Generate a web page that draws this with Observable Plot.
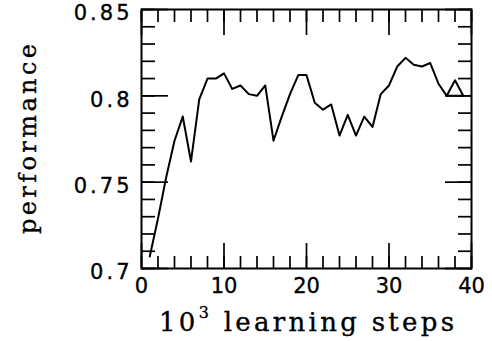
<!DOCTYPE html>
<html><head><meta charset="utf-8">
<script src="https://cdn.jsdelivr.net/npm/d3@7"></script>
<script src="https://cdn.jsdelivr.net/npm/@observablehq/plot@0.6"></script>
<style>body{margin:0;background:#fff}</style>
</head><body><div id="chart"></div>
<script>
const steps = [1,2,3,4,5,6,7,8,9,10,11,12,13,14,15,16,17,18,19,20,21,22,23,24,25,26,27,28,29,30,31,32,33,34,35,36,37,38,39,37];
const perf = [0.707,0.729,0.753,0.774,0.788,0.762,0.798,0.810,0.810,0.813,0.804,0.806,0.801,0.800,0.806,0.774,0.788,0.801,0.812,0.812,0.796,0.792,0.795,0.777,0.789,0.777,0.788,0.782,0.801,0.806,0.817,0.822,0.818,0.817,0.819,0.807,0.800,0.809,0.800,0.800];
const xMinorTicks = [0,2,4,6,8,10,12,14,16,18,20,22,24,26,28,30,32,34,36,38,40];
const xMajorTicks = [0,10,20,30,40];
const yMinorTicks = [0.70,0.71,0.72,0.73,0.74,0.75,0.76,0.77,0.78,0.79,0.80,0.81,0.82,0.83,0.84,0.85];
const yMajorTicks = [0.7,0.75,0.8,0.85];
const xTitleBase = "10";
const xTitleExp = "3";
const xTitleRest = " learning steps";
const xTitle = xTitleBase + "³" + xTitleRest;
const yTitle = "performance";

const data = steps.map((s, i) => ({step: s, perf: perf[i]}));
const tickFont = {fontSize: 21, fontFamily: "DejaVu Sans"};
const fmt = d => String(+d.toFixed(2));

const chart = Plot.plot({
  width: 492,
  height: 341,
  marginLeft: 141,
  marginRight: 21,
  marginTop: 9,
  marginBottom: 73,
  x: {domain: [0, 40]},
  y: {domain: [0.7, 0.85]},
  style: {background: "#fff", color: "#000"},
  marks: [
    Plot.axisX(xMinorTicks, {anchor: "bottom", tickSize: -12, text: null, label: null, strokeWidth: 1.7}),
    Plot.axisX(xMinorTicks, {anchor: "top", tickSize: -12, text: null, label: null, strokeWidth: 1.7}),
    Plot.axisX(xMajorTicks, {anchor: "bottom", tickSize: -25, text: null, label: null, strokeWidth: 1.7}),
    Plot.axisX(xMajorTicks, {anchor: "top", tickSize: -25, text: null, label: null, strokeWidth: 1.7}),
    Plot.axisY(yMinorTicks, {anchor: "left", tickSize: -14, text: null, label: null, strokeWidth: 1.7}),
    Plot.axisY(yMinorTicks, {anchor: "right", tickSize: -14, text: null, label: null, strokeWidth: 1.7}),
    Plot.axisY(yMajorTicks, {anchor: "left", tickSize: -27, text: null, label: null, strokeWidth: 1.7}),
    Plot.axisY(yMajorTicks, {anchor: "right", tickSize: -27, text: null, label: null, strokeWidth: 1.7}),
    Plot.axisX(xMajorTicks, {anchor: "bottom", tickSize: 0, tickPadding: 10, label: null, tickFormat: fmt, ...tickFont}),
    Plot.axisY(yMajorTicks, {anchor: "left", tickSize: 0, tickPadding: 9, dy: 4, label: null, tickFormat: fmt, ...tickFont}),
    Plot.frame({stroke: "#000", strokeWidth: 2}),
    Plot.line(data, {x: "step", y: "perf", stroke: "#000", strokeWidth: 2}),
    Plot.text([xTitle], {frameAnchor: "bottom", dy: 54, text: d => d, textAnchor: "middle", lineAnchor: "middle", fontSize: 26, fontFamily: "DejaVu Serif"}),
    Plot.text([yTitle], {frameAnchor: "left", dx: -113, rotate: -90, text: d => d, textAnchor: "middle", lineAnchor: "middle", fontSize: 24, fontFamily: "DejaVu Serif"})
  ]
});

const svg = d3.select(chart);
svg.selectAll("text").each(function() {
  const t = d3.select(this);
  const s = t.text();
  t.attr("stroke", "#000").attr("stroke-width", 0.35);
  if (s === xTitle) {
    t.text(null).attr("textLength", 295).attr("lengthAdjust", "spacing");
    t.append("tspan").text(xTitleBase);
    t.append("tspan").attr("dy", -13).attr("font-size", 16).text(xTitleExp);
    t.append("tspan").attr("dy", 13).text(xTitleRest);
  }
  if (s === yTitle) t.attr("textLength", 190).attr("lengthAdjust", "spacing");
});
svg.selectAll("g[aria-label='y-axis tick label'] text").attr("letter-spacing", 3);
document.getElementById("chart").appendChild(chart);
</script>
</body></html>
